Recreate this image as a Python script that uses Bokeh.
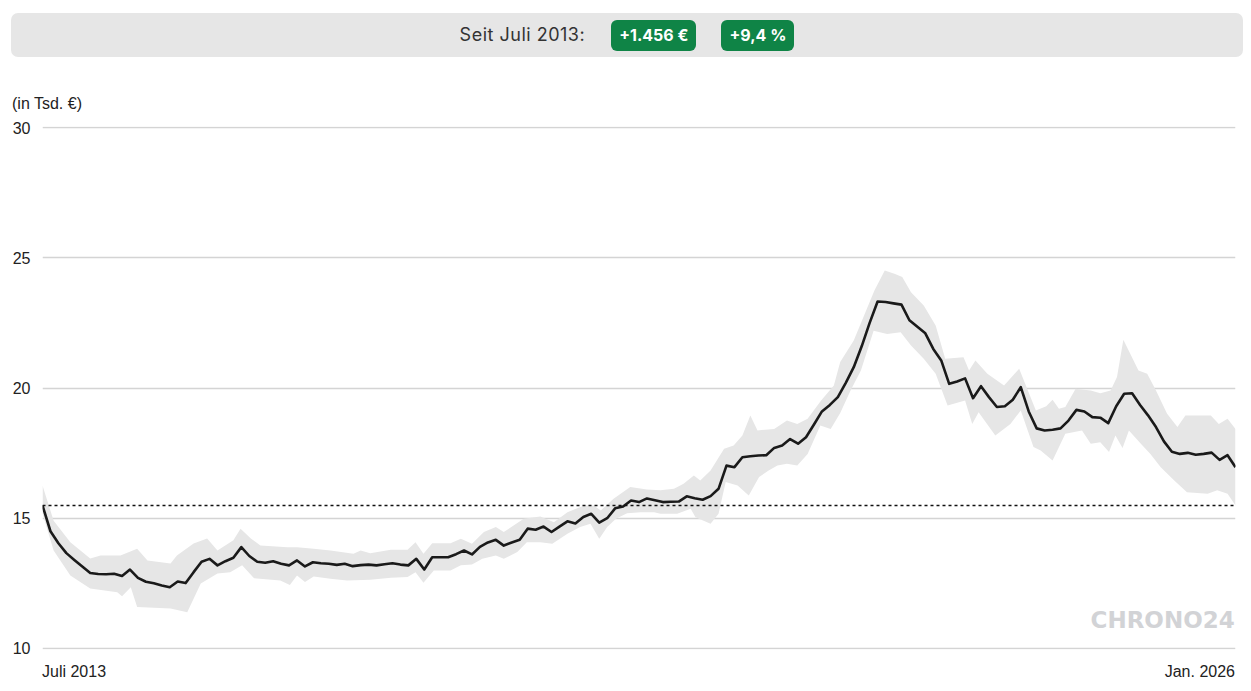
from bokeh.plotting import figure
from bokeh.models import Range1d, FixedTicker, Label, Div, Span
from bokeh.layouts import column
from bokeh.embed import file_html
from bokeh.resources import INLINE

# ---- data (values in thousand EUR, x = months since July 2013) ----
months = list(range(0, 151))
price = [15.49, 14.5, 14.04, 13.66, 13.4, 13.15, 12.9, 12.86, 12.85, 12.87,
         12.78, 13.03, 12.71, 12.56, 12.5, 12.42, 12.35, 12.57, 12.51, 12.93,
         13.33, 13.44, 13.19, 13.35, 13.48, 13.89, 13.55, 13.33, 13.29, 13.35,
         13.25, 13.19, 13.38, 13.15, 13.31, 13.27, 13.25, 13.21, 13.25, 13.16,
         13.2, 13.22, 13.19, 13.23, 13.27, 13.22, 13.19, 13.44, 13.03, 13.5,
         13.5, 13.5, 13.62, 13.76, 13.61, 13.9, 14.07, 14.17, 13.95, 14.07,
         14.17, 14.6, 14.56, 14.68, 14.47, 14.68, 14.88, 14.8, 15.05, 15.17,
         14.83, 15.0, 15.38, 15.45, 15.68, 15.62, 15.76, 15.69, 15.62, 15.63,
         15.64, 15.84, 15.77, 15.71, 15.85, 16.13, 17.02, 16.96, 17.34, 17.38,
         17.41, 17.42, 17.7, 17.79, 18.04, 17.86, 18.11, 18.6, 19.1, 19.35,
         19.65, 20.2, 20.8, 21.6, 22.5, 23.32, 23.3, 23.25, 23.2, 22.6,
         22.35, 22.1, 21.5, 21.06, 20.16, 20.25, 20.37, 19.61, 20.07, 19.65,
         19.27, 19.3, 19.55, 20.03, 19.1, 18.45, 18.37, 18.4, 18.45, 18.75,
         19.16, 19.1, 18.88, 18.86, 18.65, 19.3, 19.78, 19.8, 19.35, 18.95,
         18.5, 17.95, 17.55, 17.47, 17.51, 17.44, 17.47, 17.52, 17.24, 17.42,
         16.96]

band_hi_months = [0, 1.4, 3.5, 6, 7.3, 9.8, 11.9, 13.2, 16.1, 16.9, 19, 20.7, 22, 24, 24.9,
                  26.2, 27.4, 30.8, 32, 34.1, 36.2, 39.1, 40, 41.2, 43.8, 45.9, 46.9, 47.9,
                  49, 51.3, 52.6, 54, 55.5, 57, 58, 60.5, 62.6, 64.3, 66, 68.1, 69.3, 70.2,
                  71.8, 73.9, 76, 77.7, 79.4, 80.6, 81.9, 82.7, 84, 85.7, 86.9, 88, 89, 89.9,
                  92, 93.6, 94.9, 96.2, 97.9, 99.5, 100.3, 102, 104.6, 105.9, 107.2, 108.1,
                  109.2, 110.8, 112.3, 113.5, 115.8, 116.5, 117.3, 118.8, 120.9, 122.8,
                  124.9, 126.2, 127, 127.8, 128.6, 129.9, 131.8, 133, 134.3, 135.1, 135.9,
                  137.8, 138.9, 140, 141.4, 142.7, 143.7, 146.9, 147.9, 149, 150]
band_hi = [16.26, 14.9, 14.08, 13.45, 13.57, 13.57, 13.83, 13.38, 13.26, 13.57, 14.03, 14.22,
           13.76, 14.15, 14.6, 14.22, 13.95, 13.89, 13.89, 13.83, 13.76, 13.64, 13.76, 13.66,
           13.79, 13.79, 14.08, 13.64, 14.04, 14.04, 14.21, 14.02, 14.47, 14.66, 14.47, 14.98,
           15.07, 14.85, 15.23, 15.49, 15.49, 15.3, 15.75, 16.2, 16.1, 16.07, 16.13, 16.32,
           16.64, 16.45, 16.83, 17.67, 17.79, 18.18, 18.94, 18.37, 18.43, 18.75, 18.62, 18.82,
           19.52, 20.1, 21.0, 21.82, 23.74, 24.51, 24.38, 24.26, 23.68, 23.17, 22.4, 21.12,
           21.18, 20.67, 21.06, 20.55, 20.1, 20.74, 19.14, 19.3, 19.55, 19.2, 19.27, 19.97,
           19.9, 19.8, 19.9, 20.42, 21.85, 20.67, 20.55, 19.9, 19.01, 18.5, 18.94, 18.94,
           18.62, 18.82, 18.43]

band_lo_months = [0, 1.4, 3.5, 6, 9.4, 10, 11.1, 11.9, 16.1, 18.2, 19.9, 22, 23.6, 25.1, 26.6,
                  29.9, 31.1, 32, 33, 34.1, 36.2, 38.3, 41.2, 43.8, 45.9, 46.9, 47.9, 49.2,
                  51.3, 52.6, 54, 55.3, 57, 58, 59.7, 60.9, 62.6, 64.1, 66, 67.6, 68.9, 70,
                  71, 72.1, 73.5, 75.2, 76.9, 77.7, 79.8, 81.5, 82.1, 84, 85, 85.9, 87.4,
                  88.8, 90.1, 91.3, 92.4, 93.6, 94.9, 96.2, 97.8, 99.1, 100.3, 101.6, 102.9,
                  104.5, 106.2, 107.9, 109.2, 110.8, 112.3, 113.8, 116, 116.9, 117.7, 119.8,
                  121.7, 123, 124.6, 125.5, 127, 128.6, 130.7, 131.8, 133, 134.1, 134.9,
                  135.8, 136.6, 138.1, 139.3, 140.6, 142.3, 143.9, 146.5, 147.7, 149, 150]
band_lo = [15.18, 13.76, 12.8, 12.3, 12.16, 12.0, 12.35, 11.59, 11.53, 11.39, 12.49, 12.88,
           12.93, 13.19, 12.7, 12.61, 12.44, 12.8, 12.55, 12.76, 12.68, 12.61, 12.64, 12.71,
           12.74, 12.93, 12.52, 12.99, 12.99, 13.19, 13.22, 13.44, 13.57, 13.44, 13.7, 14.08,
           14.08, 14.02, 14.4, 14.66, 14.79, 14.21, 14.66, 14.98, 15.19, 15.23, 15.23, 15.17,
           15.17, 15.36, 15.04, 14.79, 15.17, 16.39, 16.26, 15.87, 16.58, 16.83, 17.02, 17.09,
           17.02, 17.47, 18.56, 18.43, 19.04, 19.9, 20.67, 22.2, 22.07, 22.14, 21.63, 21.12,
           20.55, 19.33, 19.52, 18.62, 19.07, 18.18, 18.62, 19.14, 17.73, 17.6, 17.22, 18.24,
           18.37, 17.86, 17.92, 17.54, 18.18, 17.7, 18.37, 17.86, 17.47, 16.96, 16.45, 16.0,
           15.94, 16.07, 15.94, 15.49]

y_ticks = [10, 15, 20, 25, 30]
x_start_label = "Juli 2013"
x_end_label = "Jan. 2026"
y_unit_label = "(in Tsd. €)"
header_text = "Seit Juli 2013:"
change_abs = "+1.456 €"
change_pct = "+9,4 %"
baseline_value = price[0]

TXT = "font-family:'Liberation Sans', Arial, sans-serif;font-size:16px;color:#222;"

# ---- header (summary bar + unit label) ----
badge_style = ("display:inline-block;background:#0f8446;color:#fff;font-weight:700;"
               "font-size:16px;line-height:31px;height:31px;padding:0 8px;border-radius:6px;"
               "font-family:Inter, 'Open Sans', sans-serif;")
header_html = (
    '<div style="margin:5px 0 0 3px;width:1232px;height:44px;background:#e6e6e6;'
    'border-radius:7px;display:flex;align-items:center;justify-content:center;'
    'font-family:Inter, \'Open Sans\', sans-serif;">'
    f'<span style="font-size:18px;letter-spacing:0.5px;color:#333;margin-right:26px;">{header_text}</span>'
    f'<span style="{badge_style}margin-right:25px;">{change_abs}</span>'
    f'<span style="{badge_style}">{change_pct}</span>'
    '</div>'
    f'<div style="margin:37px 0 0 4px;line-height:20px;height:20px;{TXT}">{y_unit_label}</div>'
)
header = Div(text=header_html, width=1235, height=104, margin=(0, 0, 0, 0))

# ---- chart ----
p = figure(width=1235, height=549, output_backend="svg", toolbar_location=None,
           x_range=Range1d(0, 150), y_range=Range1d(9.96, 30.04),
           min_border_left=34, min_border_right=8, min_border_top=14, min_border_bottom=12,
           margin=(0, 0, 0, 0))
p.outline_line_color = None
p.background_fill_color = "white"
p.border_fill_color = "white"

p.xaxis.visible = False
p.xgrid.visible = False
p.ygrid.grid_line_color = "#d4d4d4"
p.ygrid.grid_line_width = 1.6
p.yaxis.ticker = FixedTicker(ticks=y_ticks)
p.yaxis.axis_line_color = None
p.yaxis.major_tick_line_color = None
p.yaxis.minor_tick_line_color = None
p.yaxis.major_tick_out = 0
p.yaxis.major_label_standoff = 12
p.yaxis.major_label_text_font = "Liberation Sans"
p.yaxis.major_label_text_font_size = "16px"
p.yaxis.major_label_text_color = "#222222"

# band
xs = band_hi_months + band_lo_months[::-1]
ys = band_hi + band_lo[::-1]
p.patch(xs, ys, fill_color="#e6e6e6", line_color=None)

# baseline dotted
p.add_layout(Span(location=baseline_value, dimension="width", line_color="#111111",
                  line_width=1.5, line_dash="3 3"))

# price line
p.line(months, price, line_color="#1a1a1a", line_width=2.6, line_join="round")

# watermark
p.add_layout(Label(x=149.9, y=11.08, text="CHRONO24", text_align="right",
                   text_baseline="middle", text_font="DejaVu Sans", text_font_style="bold",
                   text_font_size="23px", text_color="#d2d3d6"))

# ---- footer (x labels) ----
footer_html = (
    '<div style="position:relative;width:1235px;height:22px;">'
    f'<span style="position:absolute;left:34px;top:1px;line-height:20px;{TXT}">{x_start_label}</span>'
    f'<span style="position:absolute;right:8px;top:1px;line-height:20px;{TXT}">{x_end_label}</span>'
    '</div>'
)
footer = Div(text=footer_html, width=1235, height=22, margin=(0, 0, 0, 0))

layout = column(header, p, footer, spacing=0, margin=(8, 0, 0, 8))
open("out.html", "w").write(file_html(layout, INLINE))
